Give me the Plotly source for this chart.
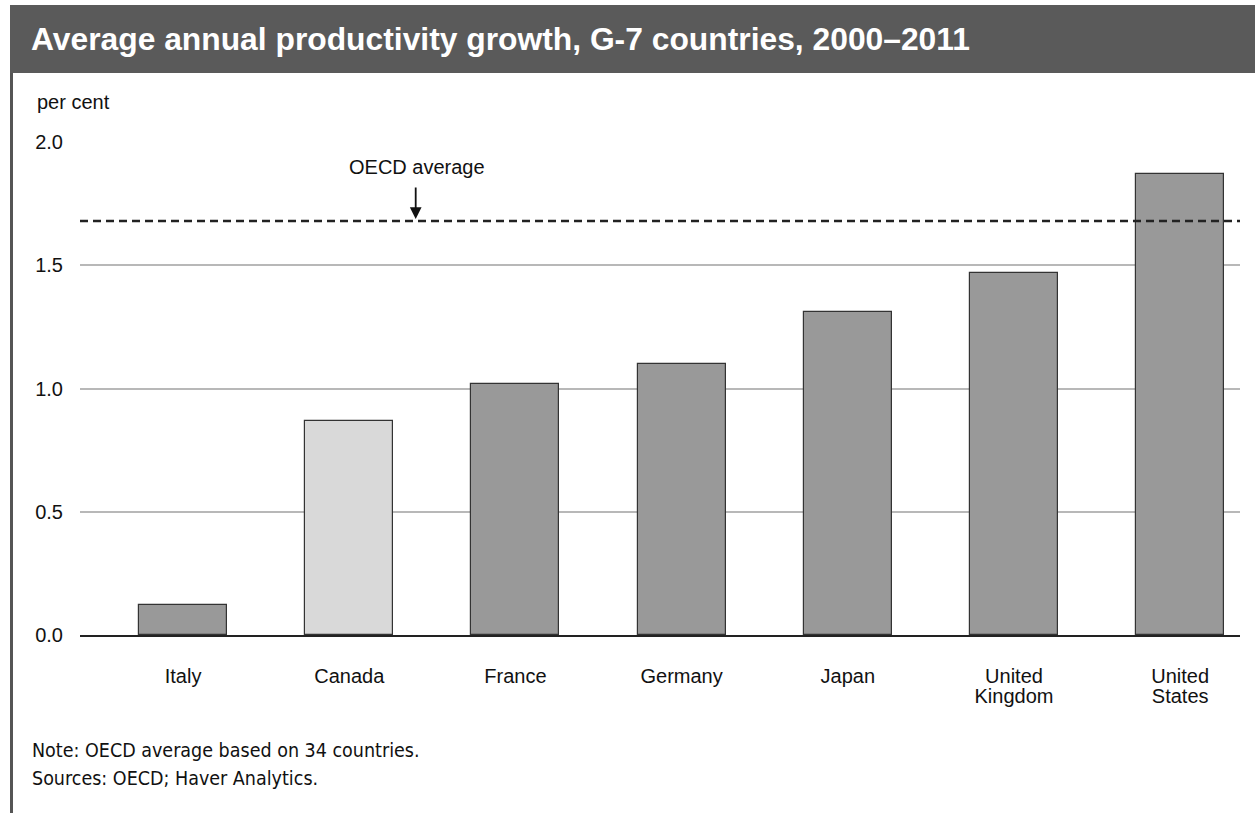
import plotly.graph_objects as go

# Average annual labour productivity growth, 2000–2011 (per cent)
countries = ["Italy", "Canada", "France", "Germany", "Japan", "United Kingdom", "United States"]
label_line1 = ["Italy", "Canada", "France", "Germany", "Japan", "United", "United"]
label_line2 = ["", "", "", "", "", "Kingdom", "States"]
growth = [0.12, 0.87, 1.02, 1.10, 1.31, 1.47, 1.87]
oecd_average = 1.68
y_ticks = [0.0, 0.5, 1.0, 1.5, 2.0]
note_lines = ["Note: OECD average based on 34 countries.", "Sources: OECD; Haver Analytics."]

bar_colors = ["#d9d9d9" if c == "Canada" else "#999999" for c in countries]

W, H = 1255, 813
L, R, T, B = 80, 15, 142, 178
pw, ph = W - L - R, H - T - B


def px_x(v):
    return (v - L) / pw


def px_y(v):
    return (H - B - v) / ph


positions = list(range(len(countries)))
x_range = [-0.62, 6.36]

sans = "Liberation Sans, Arial, sans-serif"
base_font = dict(family=sans, size=20, color="#111111")

fig = go.Figure()
fig.add_trace(go.Bar(
    x=positions,
    y=growth,
    width=0.53,
    marker=dict(color=bar_colors, line=dict(color="#333333", width=1.2)),
    hoverinfo="skip",
))
# empty trace that carries the overlay axis used for the second label line
fig.add_trace(go.Bar(x=positions, y=[None] * len(positions), xaxis="x2",
                     hoverinfo="skip", showlegend=False))

fig.update_layout(
    width=W,
    height=H,
    margin=dict(l=L, r=R, t=T, b=B),
    paper_bgcolor="white",
    plot_bgcolor="white",
    showlegend=False,
    font=base_font,
    bargap=0,
    xaxis=dict(
        range=x_range,
        tickmode="array",
        tickvals=positions,
        ticktext=label_line1,
        showgrid=False,
        showline=True,
        linecolor="#222222",
        linewidth=2,
        ticks="",
        ticklabelstandoff=22,
        zeroline=False,
        fixedrange=True,
    ),
    # second line of the two-word country names, set tighter than <br> spacing
    xaxis2=dict(
        overlaying="x",
        matches="x",
        side="bottom",
        range=x_range,
        tickmode="array",
        tickvals=positions,
        ticktext=label_line2,
        showgrid=False,
        showline=False,
        ticks="",
        ticklabelstandoff=47,
        zeroline=False,
        fixedrange=True,
    ),
    yaxis=dict(
        range=[0, 2.0],
        tickmode="array",
        tickvals=y_ticks,
        ticktext=[f"{v:.1f}" for v in y_ticks],
        showgrid=True,
        gridcolor="#b8b8b8",
        gridwidth=1.5,
        zeroline=False,
        showline=False,
        ticks="",
        ticklabelstandoff=16,
        fixedrange=True,
    ),
    shapes=[
        # title banner
        dict(type="rect", xref="paper", yref="paper",
             x0=px_x(10), x1=px_x(1255), y0=px_y(73), y1=px_y(5),
             fillcolor="#5a5a5a", line=dict(width=0), layer="above"),
        # left frame rule
        dict(type="line", xref="paper", yref="paper",
             x0=px_x(11.5), x1=px_x(11.5), y0=px_y(813), y1=px_y(73),
             line=dict(color="#555555", width=3)),
        # OECD average reference line
        dict(type="line", xref="paper", yref="y",
             x0=0, x1=1, y0=oecd_average, y1=oecd_average,
             line=dict(color="#222222", width=2.5, dash="8px,5px"), layer="above"),
    ],
    annotations=[
        dict(text="<b>Average annual productivity growth, G-7 countries, 2000–2011</b>",
             xref="paper", yref="paper", x=px_x(29), y=px_y(39),
             xanchor="left", yanchor="middle", showarrow=False,
             font=dict(family=sans, size=31.8, color="white")),
        dict(text="per cent", xref="paper", yref="paper", x=px_x(35), y=px_y(102),
             xanchor="left", yanchor="middle", showarrow=False, font=base_font),
        dict(text="OECD average", xref="x", yref="paper", x=1.41, y=px_y(167),
             xanchor="center", yanchor="middle", showarrow=False, font=base_font),
        dict(text="", xref="x", yref="y", x=1.40, y=oecd_average,
             ax=0, ay=-35, showarrow=True, arrowhead=2, arrowsize=1.3,
             arrowwidth=1.8, arrowcolor="#111111", standoff=2),
    ],
)

narrow = dict(family="DejaVu Sans Condensed, Liberation Sans, sans-serif", size=19.5, color="#111111")
for i, line in enumerate(note_lines):
    fig.add_annotation(text=line, xref="paper", yref="paper", x=px_x(30), y=px_y(750 + 28 * i),
                       xanchor="left", yanchor="middle", showarrow=False, font=narrow)

fig.write_html("out.html")
